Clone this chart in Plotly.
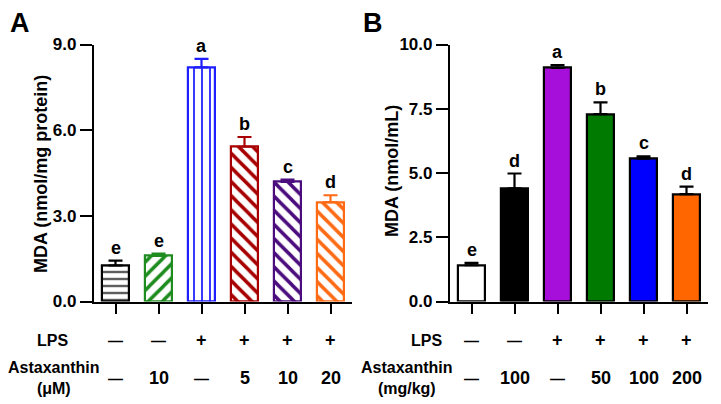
import plotly.graph_objects as go

# ---- data ----
groups = [0, 1, 2, 3, 4, 5]
lps_row = ["—", "—", "+", "+", "+", "+"]

a_values = [1.26, 1.60, 8.20, 5.42, 4.19, 3.48]
a_errors = [0.17, 0.08, 0.30, 0.34, 0.08, 0.24]
a_letters = ["e", "e", "a", "b", "c", "d"]
a_dose = ["—", "10", "—", "5", "10", "20"]
a_colors = ["#000000", "#1E8C1E", "#1E1EFF", "#A80000", "#4B0C7E", "#FF6A14"]
a_shapes = ["-", "/", "|", "\\", "\\", "\\"]

b_values = [1.41, 4.40, 9.09, 7.29, 5.56, 4.18]
b_errors = [0.09, 0.58, 0.11, 0.46, 0.09, 0.29]
b_letters = ["e", "d", "a", "b", "c", "d"]
b_dose = ["—", "100", "—", "50", "100", "200"]
b_fill = ["#FFFFFF", "#000000", "#A60FD9", "#007A00", "#0000FF", "#FF6600"]

a_ticks = [0.0, 3.0, 6.0, 9.0]
b_ticks = [0.0, 2.5, 5.0, 7.5, 10.0]

FONT = "Liberation Sans, Arial, sans-serif"
# the page body adds an 8px margin; the figure fills the rest of the 721x404 window
OFF = 8
W, H = 721 - OFF, 404 - OFF


def px(x):
    return (x - OFF) / W


def py(y):
    return 1 - (y - OFF) / H


fig = go.Figure()

# Panel A bars (patterned, coloured outlines)
fig.add_trace(go.Bar(
    x=groups, y=a_values, width=0.63, xaxis="x", yaxis="y",
    marker=dict(
        color="white",
        line=dict(color=a_colors, width=2.2),
        pattern=dict(shape=a_shapes, fgcolor=a_colors, bgcolor="white",
                     size=[7, 10, 8, 10, 10, 10],
                     solidity=[0.22, 0.35, 0.22, 0.35, 0.35, 0.35],
                     fillmode="replace"),
    ),
    showlegend=False, hoverinfo="skip",
))
for i in groups:
    fig.add_trace(go.Scatter(
        x=[groups[i]], y=[a_values[i]], xaxis="x", yaxis="y", mode="markers",
        marker=dict(size=0.1, color="rgba(0,0,0,0)"),
        error_y=dict(type="data", symmetric=False, array=[a_errors[i]],
                     arrayminus=[0], color=a_colors[i], thickness=2.2, width=7),
        showlegend=False, hoverinfo="skip",
    ))

# Panel B bars (solid)
fig.add_trace(go.Bar(
    x=groups, y=b_values, width=0.63, xaxis="x2", yaxis="y2",
    marker=dict(color=b_fill, line=dict(color="black", width=2.2)),
    error_y=dict(type="data", symmetric=False, array=b_errors,
                 arrayminus=[0] * 6, color="black", thickness=2.2, width=7),
    showlegend=False, hoverinfo="skip",
))

dom_y = [py(301.5), py(44.5)]
axis_common = dict(showline=True, linecolor="black", linewidth=2.2,
                   ticks="outside", tickwidth=2.2, tickcolor="black",
                   showgrid=False, zeroline=False, automargin=False,
                   tickfont=dict(family=FONT, size=17, color="black", weight="bold"))

fig.update_layout(
    width=W, height=H,
    margin=dict(l=0, r=0, t=0, b=0, pad=0, autoexpand=False),
    paper_bgcolor="white", plot_bgcolor="white", bargap=0,
    font=dict(family=FONT, color="black"),
    xaxis=dict(domain=[px(94), px(352)], range=[-0.5, 5.5], tickvals=groups,
               ticktext=[""] * 6, ticklen=10, anchor="y", **axis_common),
    yaxis=dict(domain=dom_y, range=[0, 9], tickvals=a_ticks,
               ticktext=[f"{v:.1f}" for v in a_ticks], ticklen=12, anchor="x",
               **axis_common),
    xaxis2=dict(domain=[px(450), px(708)], range=[-0.5, 5.5], tickvals=groups,
                ticktext=[""] * 6, ticklen=10, anchor="y2", **axis_common),
    yaxis2=dict(domain=dom_y, range=[0, 10], tickvals=b_ticks,
                ticktext=[f"{v:.1f}" for v in b_ticks], ticklen=12, anchor="x2",
                **axis_common),
)

ann = []
letter_font = dict(family=FONT, size=18, color="black", weight="bold")

# significance letters
for i in groups:
    ann.append(dict(x=groups[i], y=a_values[i] + a_errors[i], xref="x", yref="y",
                    text=a_letters[i], showarrow=False, xanchor="center",
                    yanchor="bottom", yshift=1, font=letter_font))
    ann.append(dict(x=groups[i], y=b_values[i] + b_errors[i], xref="x2", yref="y2",
                    text=b_letters[i], showarrow=False, xanchor="center",
                    yanchor="bottom", yshift=1, font=letter_font))

# bottom condition rows
val_font = dict(family=FONT, size=18, color="black", weight="bold")
dash_font = dict(family=FONT, size=15, color="black", weight="bold")
for i in groups:
    for xr, dose in (("x", a_dose), ("x2", b_dose)):
        for yy, txt in ((py(340), lps_row[i]), (py(378), dose[i])):
            ann.append(dict(x=groups[i], y=yy, xref=xr, yref="paper", text=txt,
                            showarrow=False, xanchor="center", yanchor="middle",
                            font=dash_font if txt == "—" else val_font))

lab = dict(family=FONT, size=16, color="black", weight="bold")
title_font = dict(family=FONT, size=18, color="black", weight="bold")
panel_font = dict(family=FONT, size=27, color="black", weight="bold")


def pa(x, y, text, font, **kw):
    return dict(x=px(x), y=py(y), xref="paper", yref="paper", text=text,
                showarrow=False, xanchor="center", yanchor="middle", font=font, **kw)


ann += [
    pa(52, 340, "LPS", lab),
    pa(54, 378, "Astaxanthin<br>(μM)", lab),
    pa(427, 340, "LPS", lab),
    pa(407, 378, "Astaxanthin<br>(mg/kg)", lab),
    pa(41, 174, "MDA (nmol/mg protein)", title_font, textangle=-90),
    pa(392, 171, "MDA (nmol/mL)", title_font, textangle=-90),
    pa(20, 23, "A", panel_font),
    pa(373, 23, "B", panel_font),
]
fig.update_layout(annotations=ann)

fig.write_html("out.html")
